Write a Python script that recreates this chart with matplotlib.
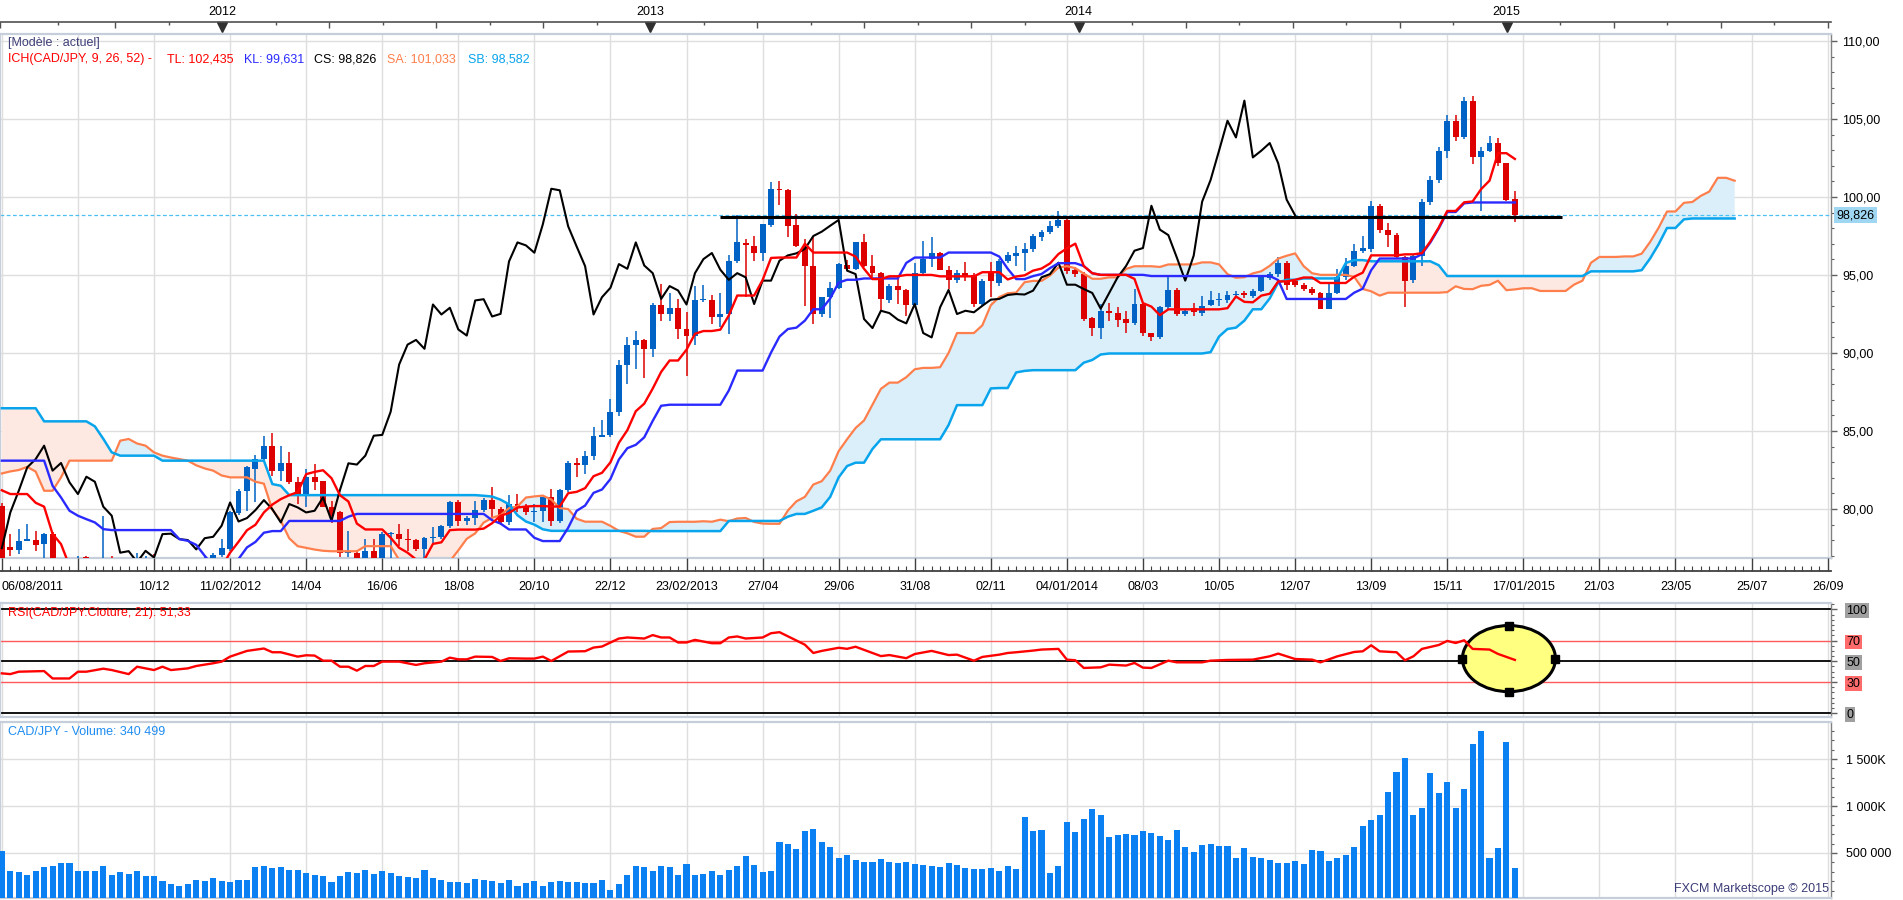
import numpy as np
import pandas as pd
import matplotlib
matplotlib.use("Agg")
import matplotlib.pyplot as plt
from matplotlib.patches import Ellipse
from matplotlib.ticker import MultipleLocator, FuncFormatter
from matplotlib.transforms import blended_transform_factory

plt.rcParams["font.family"] = ["Liberation Sans", "DejaVu Sans"]

W, H = 1903, 900
START = pd.Timestamp("2011-08-06")  # week 0 of the chart

# ---- weekly CAD/JPY candles, week 0 = 06/08/2011 ----
open_ = [
    80.21, 77.54, 77.36, 77.96, 78.01, 77.75, 78.39, 76.20, 75.00, 75.60,
    76.90, 76.20, 75.30, 76.89, 76.00, 74.80, 74.20, 76.50, 76.70, 76.30,
    76.10, 76.50, 75.80, 75.20, 76.00, 76.70, 77.06, 77.43, 79.72, 81.13,
    82.56, 83.20, 84.06, 82.41, 82.95, 81.71, 80.96, 82.07, 81.81, 80.15,
    79.78, 77.20, 77.21, 76.60, 77.32, 76.89, 78.39, 78.39, 78.07, 78.01,
    77.41, 78.13, 78.22, 78.93, 80.42, 79.20, 79.42, 79.93, 80.57, 79.99,
    79.14, 80.32, 80.10, 79.78, 79.89, 80.74, 79.25, 81.22, 82.93, 82.85,
    83.42, 84.64, 84.75, 86.20, 89.26, 90.54, 90.84, 90.27, 93.11, 92.47,
    92.90, 91.51, 91.12, 93.37, 93.43, 92.34, 92.51, 95.87, 97.05, 96.88,
    96.43, 98.18, 100.53, 100.43, 98.18, 96.83, 95.57, 92.47, 93.58, 94.18,
    95.66, 95.40, 97.09, 95.61, 95.12, 93.43, 94.31, 94.01, 93.11, 95.12,
    96.02, 96.41, 95.34, 94.65, 95.11, 95.02, 93.14, 95.19, 94.47, 95.92,
    96.20, 96.39, 96.67, 97.41, 97.74, 98.12, 98.53, 95.32, 95.06, 92.24,
    91.60, 92.71, 92.56, 92.18, 91.90, 93.14, 91.28, 91.00, 92.93, 94.04,
    92.50, 92.86, 92.56, 93.08, 93.42, 93.40, 93.72, 93.82, 93.68, 94.00,
    94.81, 95.06, 95.79, 94.64, 94.38, 94.10, 93.85, 92.84, 93.85, 94.85,
    95.56, 96.52, 96.67, 99.44, 97.91, 97.59, 96.13, 94.68, 96.20, 99.66,
    101.09, 102.93, 104.89, 103.82, 106.18, 102.54, 102.97, 103.46, 102.16, 99.87,
]
high = [
    80.40, 78.39, 78.71, 79.03, 78.61, 78.45, 78.50, 76.40, 75.90, 77.00,
    77.00, 76.50, 79.57, 77.00, 76.30, 75.30, 77.21, 77.00, 77.10, 76.60,
    76.80, 76.70, 76.00, 76.30, 76.90, 77.20, 78.07, 79.90, 81.30, 82.78,
    83.48, 84.66, 84.87, 84.06, 83.63, 82.03, 82.56, 82.88, 81.81, 80.53,
    79.90, 78.61, 77.40, 78.07, 78.07, 78.50, 78.50, 79.03, 78.71, 78.10,
    78.20, 78.82, 79.00, 80.50, 80.57, 79.57, 80.49, 80.70, 81.39, 80.10,
    80.92, 80.96, 80.30, 80.32, 80.80, 81.28, 81.30, 83.10, 83.27, 83.74,
    85.28, 85.71, 87.06, 89.56, 91.01, 91.44, 90.90, 93.20, 94.44, 93.84,
    93.47, 92.62, 94.27, 94.33, 93.75, 93.84, 96.26, 98.82, 97.33, 97.50,
    98.30, 100.96, 101.01, 100.50, 98.93, 97.33, 97.43, 93.60, 94.54, 95.76,
    95.94, 97.11, 97.61, 96.26, 95.20, 94.40, 94.87, 94.10, 95.76, 97.18,
    97.43, 96.50, 95.61, 95.30, 95.81, 95.10, 94.74, 95.81, 96.00, 96.45,
    96.88, 97.03, 97.63, 97.90, 98.48, 99.12, 98.60, 95.50, 95.20, 92.30,
    93.14, 93.18, 92.93, 92.71, 94.10, 93.20, 91.30, 93.03, 94.85, 94.17,
    92.80, 93.18, 93.68, 93.95, 93.82, 93.95, 93.95, 93.95, 94.10, 94.96,
    95.20, 96.18, 95.90, 94.70, 94.50, 94.20, 93.90, 94.47, 95.38, 96.07,
    96.99, 97.50, 99.72, 99.55, 98.31, 97.67, 96.20, 96.30, 99.87, 101.37,
    103.18, 105.28, 105.26, 106.39, 106.50, 103.18, 103.93, 103.78, 102.20, 100.41,
]
low = [
    76.00, 77.00, 77.11, 77.92, 77.32, 76.79, 75.80, 74.60, 72.30, 75.20,
    75.60, 74.80, 75.00, 75.60, 74.50, 73.60, 74.15, 75.90, 75.80, 75.70,
    75.60, 75.40, 74.50, 74.90, 75.70, 76.40, 76.90, 77.30, 79.60, 79.89,
    80.42, 83.10, 82.13, 81.81, 81.60, 80.32, 80.10, 81.22, 80.10, 79.08,
    76.90, 76.90, 74.50, 76.50, 76.70, 76.80, 76.79, 77.60, 77.32, 77.30,
    76.79, 77.75, 78.10, 78.80, 78.93, 79.00, 78.99, 79.80, 79.25, 79.00,
    79.00, 79.78, 79.60, 79.14, 79.14, 78.93, 79.10, 81.10, 82.07, 82.24,
    83.14, 84.60, 84.60, 85.99, 88.02, 88.98, 88.38, 89.73, 92.04, 92.04,
    90.91, 88.55, 90.54, 93.30, 91.87, 91.66, 91.23, 95.80, 93.58, 95.89,
    95.89, 98.10, 99.47, 97.43, 96.79, 93.00, 91.87, 92.30, 92.23, 94.10,
    95.29, 95.30, 95.51, 94.87, 92.73, 93.20, 93.15, 92.40, 93.00, 95.00,
    95.51, 95.29, 94.12, 94.50, 94.60, 92.93, 93.00, 93.57, 94.30, 95.80,
    95.60, 95.28, 96.50, 97.20, 97.60, 98.00, 95.06, 94.90, 92.03, 91.11,
    90.90, 92.03, 91.65, 91.28, 91.80, 91.11, 90.75, 90.90, 92.80, 92.39,
    92.40, 92.40, 92.40, 93.00, 93.00, 93.20, 93.60, 93.50, 93.50, 93.90,
    94.70, 94.90, 94.03, 94.20, 93.95, 93.70, 92.80, 92.80, 93.80, 94.70,
    95.50, 96.40, 96.50, 97.67, 96.77, 96.00, 92.93, 94.50, 95.60, 99.50,
    100.90, 102.50, 103.61, 103.70, 102.12, 99.12, 102.90, 102.00, 99.76, 98.38,
]
close = [
    76.30, 77.40, 77.96, 78.07, 77.71, 78.39, 76.20, 75.00, 75.60, 76.85,
    76.20, 75.30, 76.89, 76.00, 74.80, 74.20, 76.50, 76.70, 76.30, 76.10,
    76.50, 75.80, 75.20, 76.00, 76.70, 77.06, 77.49, 79.78, 81.17, 82.67,
    83.20, 84.06, 82.46, 82.95, 81.71, 80.96, 82.07, 81.75, 80.15, 79.57,
    77.20, 77.30, 76.60, 77.32, 76.89, 78.39, 78.42, 78.07, 78.01, 77.41,
    78.13, 78.22, 78.93, 80.42, 79.20, 79.42, 79.93, 80.57, 79.99, 79.14,
    80.32, 80.10, 79.78, 79.89, 80.74, 79.25, 81.22, 82.93, 82.85, 83.42,
    84.70, 84.75, 86.24, 89.26, 90.54, 90.84, 90.27, 93.11, 92.47, 92.90,
    91.51, 91.12, 93.37, 93.45, 92.34, 92.51, 95.87, 97.09, 96.90, 96.43,
    98.25, 100.53, 100.43, 98.12, 96.83, 95.57, 92.47, 93.58, 94.18, 95.70,
    95.40, 97.09, 95.61, 95.12, 93.47, 94.29, 94.01, 93.11, 95.12, 96.02,
    96.41, 95.34, 94.69, 95.12, 94.85, 93.14, 94.64, 94.64, 95.92, 96.26,
    96.39, 96.67, 97.50, 97.78, 98.16, 98.53, 95.28, 95.06, 92.18, 91.60,
    92.71, 92.56, 92.14, 91.90, 93.14, 91.28, 91.00, 92.93, 94.04, 92.50,
    92.71, 92.61, 93.03, 93.42, 93.47, 93.72, 93.78, 93.75, 94.00, 94.85,
    95.06, 95.79, 94.38, 94.38, 94.10, 93.85, 92.84, 93.85, 94.85, 95.58,
    96.56, 96.73, 99.44, 97.91, 97.56, 96.13, 94.64, 96.24, 99.70, 101.09,
    102.97, 104.89, 103.82, 106.18, 102.54, 102.97, 103.46, 102.16, 99.83, 98.826,
]
# weekly volume, thousands
volume_k = [
    525, 304, 293, 268, 311, 346, 357, 389, 389, 311,
    311, 311, 364, 268, 300, 279, 311, 257, 250, 204,
    175, 150, 168, 214, 204, 236, 204, 193, 214, 214,
    346, 357, 336, 346, 321, 321, 289, 268, 257, 193,
    257, 300, 289, 321, 279, 311, 289, 257, 246, 236,
    321, 236, 214, 193, 193, 182, 225, 214, 204, 182,
    214, 150, 182, 204, 150, 193, 204, 193, 193, 182,
    182, 214, 107, 171, 268, 364, 354, 311, 364, 354,
    268, 386, 268, 279, 311, 268, 321, 364, 471, 375,
    300, 311, 621, 600, 546, 739, 750, 621, 568, 450,
    482, 425, 407, 407, 439, 407, 396, 407, 386, 375,
    364, 354, 396, 375, 336, 326, 326, 336, 304, 358,
    326, 881, 731, 742, 283, 365, 827, 721, 859, 963,
    899, 667, 696, 703, 696, 731, 710, 678, 635, 749,
    568, 507, 589, 600, 578, 578, 450, 557, 461, 450,
    429, 397, 397, 418, 386, 536, 525, 418, 450, 482,
    568, 792, 856, 909, 1151, 1358, 1507, 909, 984, 1347,
    1141, 1251, 984, 1176, 1657, 1796, 450, 557, 1678, 340.5,
]

tenkan_head = [81.20, 80.96, 80.96, 80.96, 80.40, 80.15, 78.40, 77.75]
kijun_head = [83.10, 83.10, 83.10, 83.10, 83.10, 83.10, 81.49, 80.74, 79.89, 79.57,
              79.35, 79.14, 78.71, 78.65, 78.65, 78.65, 78.65, 78.65, 78.65, 78.65,
              78.65, 78.07, 77.96, 77.70, 77.00]
senkou_a_head = [82.28, 82.41, 82.50, 82.70, 82.40, 81.17, 81.17, 82.03, 83.10, 83.10,
                 83.10, 83.10, 83.10, 83.10, 84.38, 84.49, 84.20, 84.06, 83.63, 83.42,
                 83.30, 83.20, 83.10, 82.80, 82.60, 82.46]
senkou_b_head = ([86.46] * 5 + [85.62] * 6 + [85.30, 84.50, 83.63] + [83.42] * 5
                 + [83.10] * 13 + [81.60, 81.49] + [80.89] * 23
                 + [80.85, 80.80, 80.60, 80.30, 79.60, 79.20, 79.00, 78.70] + [78.60] * 12)

rsi_points = [
    (0, 38.4), (1, 37.7), (2, 40.0), (5, 40.6), (6, 33.5), (8, 33.5), (9, 40.0), (10, 40.0),
    (12, 42.9), (13, 41.6), (15, 37.7), (16, 44.8), (18, 41.6), (19, 44.8), (20, 41.6),
    (22, 43.2), (23, 45.5), (25, 48.1), (26, 49.7), (27, 54.5), (29, 60.0), (31, 62.3),
    (32, 58.7), (33, 58.7), (35, 54.5), (36, 55.8), (37, 55.5), (38, 50.6), (39, 50.6),
    (40, 44.8), (41, 44.8), (42, 41.0), (43, 45.5), (44, 45.5), (45, 49.7), (47, 49.7),
    (49, 46.5), (50, 48.1), (52, 49.7), (53, 53.5), (54, 51.9), (55, 51.9), (56, 54.5),
    (58, 54.2), (59, 50.3), (60, 52.9), (62, 52.6), (63, 52.6), (64, 54.5), (65, 50.3),
    (67, 59.4), (69, 59.7), (70, 63.2), (71, 64.2), (73, 71.9), (74, 72.9), (76, 71.9),
    (77, 75.2), (78, 72.9), (79, 72.9), (80, 68.1), (81, 68.1), (82, 70.6), (84, 67.4),
    (85, 67.4), (86, 72.9), (87, 73.9), (88, 71.9), (90, 72.9), (91, 77.0), (92, 78.0),
    (93, 74.0), (94, 70.0), (95, 66.0), (96, 58.0), (97, 60.0), (99, 63.0), (100, 62.0),
    (101, 64.0), (102, 61.0), (104, 55.0), (105, 56.0), (107, 53.0), (108, 57.0),
    (110, 60.0), (112, 56.0), (113, 56.4), (115, 50.6), (116, 54.2), (118, 56.4),
    (119, 58.0), (120, 58.7), (122, 60.3), (123, 61.3), (125, 61.9), (126, 51.6),
    (127, 51.0), (128, 43.6), (130, 44.2), (131, 46.8), (133, 45.9), (134, 48.4),
    (135, 43.9), (136, 43.6), (138, 50.6), (139, 49.0), (142, 49.0), (143, 50.6),
    (145, 51.3), (148, 51.6), (150, 54.8), (151, 57.4), (153, 52.2), (155, 51.6),
    (156, 49.0), (158, 54.8), (160, 59.0), (161, 59.6), (162, 65.4), (163, 59.6),
    (165, 58.7), (166, 51.0), (167, 54.8), (168, 61.9), (170, 65.7), (171, 69.6),
    (172, 67.6), (173, 70.2), (174, 61.9), (176, 61.3), (177, 57.1), (179, 51.33),
]

date_labels = ["06/08/2011", "", "10/12", "11/02/2012", "14/04", "16/06", "18/08", "20/10",
               "22/12", "23/02/2013", "27/04", "29/06", "31/08", "02/11", "04/01/2014",
               "08/03", "10/05", "12/07", "13/09", "15/11", "17/01/2015", "21/03", "23/05",
               "25/07", "26/09"]
year_labels = ["2012", "2013", "2014", "2015"]

resistance = 98.70
resistance_weeks = (85, 184.6)

UP, DOWN = "#0062c4", "#dd0000"
TL_C, KL_C, SA_C, SB_C = "#ff0000", "#2a2aff", "#ff7f4c", "#08a4ec"
FRAME = "#c6cedb"
GRID = "#dedede"
XMIN, XMAX = -0.22, 216.4


def wk(date):
    return (pd.Timestamp(date) - START).days // 7


def px_axes(fig, left, top, right, bottom):
    return fig.add_axes([left / W, 1 - bottom / H, (right - left) / W, (bottom - top) / H])


def frame(ax):
    for side in ["top", "bottom", "left"]:
        ax.spines[side].set_color(FRAME)
        ax.spines[side].set_linewidth(1.6)
    ax.spines["right"].set_color("#808080")
    ax.spines["right"].set_linewidth(1.0)


# ---- indicators ----
ohlc = pd.DataFrame({"open": open_, "high": high, "low": low, "close": close})
weeks = np.arange(len(ohlc))
tenkan = ((ohlc.high.rolling(9).max() + ohlc.low.rolling(9).min()) / 2).to_numpy()
tenkan[:len(tenkan_head)] = tenkan_head
kijun = ((ohlc.high.rolling(26).max() + ohlc.low.rolling(26).min()) / 2).to_numpy()
kijun[:len(kijun_head)] = kijun_head
span_b_src = ((ohlc.high.rolling(52).max() + ohlc.low.rolling(52).min()) / 2).to_numpy()
senkou_a = np.concatenate([senkou_a_head, (tenkan + kijun) / 2])
senkou_b = np.concatenate([senkou_b_head, span_b_src[51:]])
span_x = np.arange(len(senkou_a))

o = ohlc.open.to_numpy()
c = ohlc.close.to_numpy()
colors = np.where(c >= o, UP, DOWN)
major_weeks = np.arange(0, 217, 9)

fig = plt.figure(figsize=(W / 100, H / 100), dpi=100)
fig.patch.set_facecolor("white")

# ---- top year strip ----
axt = px_axes(fig, 0, 0, 1831, 22)
axt.set_xlim(XMIN, XMAX)
axt.set_ylim(0, 1)
for side in ["top", "left", "right"]:
    axt.spines[side].set_visible(False)
axt.spines["bottom"].set_color("#505050")
axt.spines["bottom"].set_linewidth(1.2)
quarters = [wk(d) for d in pd.date_range("2011-07-01", "2015-10-01", freq="QS")]
mids = [(a + b) / 2 for a, b in zip(quarters[:-1], quarters[1:])]
axt.set_xticks(quarters)
axt.set_xticks(mids, minor=True)
axt.tick_params(axis="x", which="major", direction="out", length=4, width=1,
                color="#505050", labelbottom=False)
axt.tick_params(axis="x", which="minor", direction="out", length=2.5, width=1, color="#505050")
axt.set_yticks([])
year_x = [wk(f"{y}-01-01") for y in year_labels]
tr = blended_transform_factory(axt.transData, axt.transAxes)
axt.plot(year_x, [-0.24] * len(year_x), "v", color="#303030", ms=7, transform=tr, clip_on=False)
for x, lab in zip(year_x, year_labels):
    axt.text(x, 0.45, lab, transform=tr, ha="center", va="center", fontsize=9, color="black")

# ---- main price panel ----
ax = px_axes(fig, 0, 34, 1831, 558)
ax.set_xlim(XMIN, XMAX)
ax.set_ylim(76.86, 110.45)
frame(ax)
ax.set_xticks(major_weeks)
ax.set_yticks(np.arange(80, 111, 5))
ax.yaxis.set_minor_locator(MultipleLocator(1))
ax.grid(True, which="major", color=GRID, lw=1.0)
ax.set_axisbelow(True)
ax.tick_params(axis="x", length=0, labelbottom=False)
ax.yaxis.tick_right()
ax.yaxis.set_major_formatter(FuncFormatter(lambda v, _: f"{v:.2f}".replace(".", ",")))
ax.tick_params(axis="y", which="major", length=4, width=1, color="#606060", labelsize=9, pad=4)
ax.tick_params(axis="y", which="minor", length=2, width=0.8, color="#606060")

ax.fill_between(span_x, senkou_a, senkou_b, where=senkou_a >= senkou_b,
                color="#dbeffb", lw=0, interpolate=True, zorder=1)
ax.fill_between(span_x, senkou_a, senkou_b, where=senkou_a < senkou_b,
                color="#fde9e1", lw=0, interpolate=True, zorder=1)
ax.axhline(c[-1], color="#4cc0f2", lw=0.9, ls=(0, (3, 2)), zorder=2)

ax.vlines(weeks, ohlc.low, ohlc.high, colors=colors, lw=1.1, zorder=3)
ax.bar(weeks, np.maximum(np.abs(c - o), 0.07), width=0.7, bottom=np.minimum(o, c),
       color=colors, lw=0, zorder=3)

ax.plot(span_x, senkou_a, color=SA_C, lw=1.6, zorder=4)
ax.plot(span_x, senkou_b, color=SB_C, lw=1.8, zorder=4)
ax.plot(weeks[26:] - 26, c[26:], color="black", lw=1.5, zorder=4)
ax.plot(weeks, kijun, color=KL_C, lw=1.7, zorder=4)
ax.plot(weeks, tenkan, color=TL_C, lw=1.7, zorder=4)
ax.hlines(resistance, *resistance_weeks, color="black", lw=2.2, zorder=5)

ax.text(1.003, c[-1], f"{c[-1]:.3f}".replace(".", ","),
        transform=blended_transform_factory(ax.transAxes, ax.transData),
        ha="left", va="center", fontsize=9, color="black", clip_on=False,
        bbox=dict(facecolor="#9fd6f2", edgecolor="none", pad=1.5))

# ---- date band ----
axd = px_axes(fig, 0, 558, 1831, 571)
axd.set_xlim(XMIN, XMAX)
axd.set_ylim(0, 1)
axd.patch.set_visible(False)
for side in ["top", "left", "right"]:
    axd.spines[side].set_visible(False)
axd.spines["bottom"].set_color("#404040")
axd.spines["bottom"].set_linewidth(1.3)
axd.set_yticks([])
axd.set_xticks(major_weeks)
axd.set_xticklabels(date_labels)
axd.set_xticks(np.arange(0, 217, 1), minor=True)
axd.tick_params(axis="x", which="major", direction="in", length=9.5, width=1,
                color="#404040", labelsize=9, pad=7)
axd.tick_params(axis="x", which="minor", direction="in", length=3.5, width=0.8, color="#404040")
axd.get_xticklabels()[0].set_horizontalalignment("left")

# ---- RSI panel ----
axr = px_axes(fig, 0, 603, 1831, 717)
axr.set_xlim(XMIN, XMAX)
axr.set_ylim(-3.56, 106.06)
frame(axr)
axr.set_xticks(major_weeks)
axr.grid(True, axis="x", color=GRID, lw=1.0)
axr.set_axisbelow(True)
axr.tick_params(axis="x", length=0, labelbottom=False)
for lvl in [100, 50, 0]:
    axr.axhline(lvl, color="black", lw=1.3, zorder=2)
for lvl in [70, 30]:
    axr.axhline(lvl, color="#ff5a5a", lw=1.0, zorder=2)
axr.add_patch(Ellipse((178.3, 52.6), width=11.0, height=63.6, facecolor="#ffff80",
                      edgecolor="black", lw=2.2, zorder=3))
axr.plot([178.3, 178.3, 172.8, 183.8], [84.4, 20.8, 52.6, 52.6], "s",
         color="black", ms=6, zorder=4)
rsi_w, rsi_v = zip(*rsi_points)
axr.plot(rsi_w, rsi_v, color="#ff0000", lw=1.7, zorder=5)
axr.yaxis.tick_right()
axr.set_yticks([0, 30, 50, 70, 100])
axr.set_yticklabels(["0", "30", "50", "70", "100"])
axr.yaxis.set_minor_locator(MultipleLocator(5))
axr.tick_params(axis="y", which="major", length=4, width=1, color="#606060", labelsize=9, pad=7)
axr.tick_params(axis="y", which="minor", length=2, width=0.8, color="#606060")
for lab, col in zip(axr.get_yticklabels(), ["#a0a0a0", "#ff6a6a", "#a0a0a0", "#ff6a6a", "#a0a0a0"]):
    lab.set_bbox(dict(facecolor=col, edgecolor="none", pad=1))

# ---- volume panel ----
axv = px_axes(fig, 0, 722, 1831, 898)
axv.set_xlim(XMIN, XMAX)
axv.set_ylim(21e3, 1.894e6)
frame(axv)
axv.set_xticks(major_weeks)
axv.set_yticks([500e3, 1000e3, 1500e3])
axv.set_yticklabels(["500 000", "1 000K", "1 500K"])
axv.yaxis.set_minor_locator(MultipleLocator(100e3))
axv.grid(True, which="major", color=GRID, lw=1.0)
axv.set_axisbelow(True)
axv.tick_params(axis="x", length=0, labelbottom=False)
axv.yaxis.tick_right()
axv.tick_params(axis="y", which="major", length=4, width=1, color="#606060", labelsize=9, pad=7)
axv.tick_params(axis="y", which="minor", length=2, width=0.8, color="#606060")
axv.bar(weeks, np.array(volume_k) * 1e3, width=0.72, color="#0a80f2", lw=0, zorder=3)

# ---- panel captions ----
def ftext(x, y, s, color, **kw):
    fig.text(x / W, 1 - y / H, s, color=color, fontsize=9, va="center", ha="left", **kw)


ftext(8, 43, "[Modèle : actuel]", "#40407a")
ftext(8, 59, "ICH(CAD/JPY, 9, 26, 52) -", TL_C)
ftext(167, 59, "TL: 102,435", TL_C)
ftext(244, 59, "KL: 99,631", KL_C)
ftext(314, 59, "CS: 98,826", "black")
ftext(387, 59, "SA: 101,033", SA_C)
ftext(468, 59, "SB: 98,582", SB_C)
ftext(8, 613, "RSI(CAD/JPY.Cloture, 21): 51,33", "#ff0000")
ftext(8, 732, "CAD/JPY - Volume: 340 499", "#1e8cf0")
fig.text(1829 / W, 1 - 889 / H, "FXCM Marketscope © 2015", color="#3c3c78",
         fontsize=9, va="center", ha="right")

fig.savefig("out.png", dpi=100)
